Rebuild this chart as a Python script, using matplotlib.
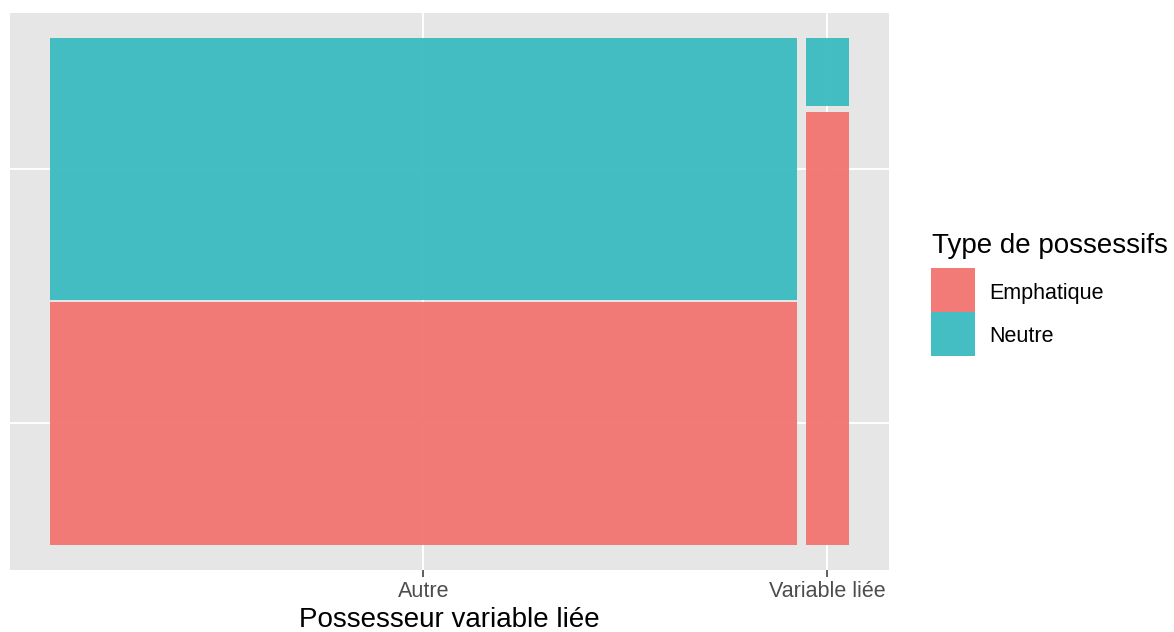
import matplotlib.pyplot as plt
from matplotlib.patches import Rectangle

plt.rcParams['font.family'] = ['Liberation Sans', 'DejaVu Sans']

# mosaic data: share of each "Possesseur" column, then share of Emphatique in it
columns = ['Autre', 'Variable liée']
col_share = [0.945, 0.055]
emph_share = [0.482, 0.864]
types = ['Emphatique', 'Neutre']
colors = ['#F27773', '#3FBCC1']

x_gap = 0.011
y_gap = [0.004, 0.010]

fig = plt.figure(figsize=(11.74, 6.32), dpi=100)
ax = fig.add_axes([10 / 1174, 62 / 632, 879 / 1174, 557 / 632])
ax.set_facecolor('#E6E6E6')

usable = 1 - x_gap * (len(columns) - 1)
x0 = 0
xticks = []
yticks = []
for i, col in enumerate(columns):
    w = col_share[i] * usable
    h_avail = 1 - y_gap[i]
    h_emph = emph_share[i] * h_avail
    h_neut = h_avail - h_emph
    ax.add_patch(Rectangle((x0, 0), w, h_emph, facecolor=colors[0],
                           alpha=0.97, edgecolor='none', zorder=2))
    ax.add_patch(Rectangle((x0, h_emph + y_gap[i]), w, h_neut, facecolor=colors[1],
                           alpha=0.97, edgecolor='none', zorder=2))
    xticks.append(x0 + w / 2)
    if i == 0:
        yticks = [h_emph / 2, h_emph + y_gap[i] + h_neut / 2]
    x0 += w + x_gap

ax.set_xlim(-0.05, 1.05)
ax.set_ylim(-0.05, 1.05)
ax.set_xticks(xticks)
ax.set_xticklabels(columns, fontsize=15.5, color='#4D4D4D')
ax.set_yticks(yticks)
ax.set_yticklabels([])
ax.tick_params(axis='x', length=5, width=1.1, color='#333333', pad=3)
ax.tick_params(axis='y', length=0)
ax.grid(True, color='white', linewidth=1.4, zorder=1)
ax.set_axisbelow(True)
for s in ax.spines.values():
    s.set_visible(False)

# axis title
fig.text(449.5 / 1174, 1 - 627 / 632, 'Possesseur variable liée', fontsize=20,
         ha='center', va='baseline')

# legend
fig.text(932 / 1174, 1 - 253 / 632, 'Type de possessifs', fontsize=20,
         va='baseline', ha='left')
for k, (t, c) in enumerate(zip(types, colors)):
    top = 268 + 44 * k
    fig.patches.append(Rectangle((931 / 1174, 1 - (top + 44) / 632), 44 / 1174, 44 / 632,
                                 transform=fig.transFigure, facecolor=c,
                                 edgecolor='none', alpha=0.97))
    fig.text(989 / 1174, 1 - (top + 25) / 632, t, fontsize=15.5, va='center', ha='left')

fig.savefig('out.png', dpi=100)
